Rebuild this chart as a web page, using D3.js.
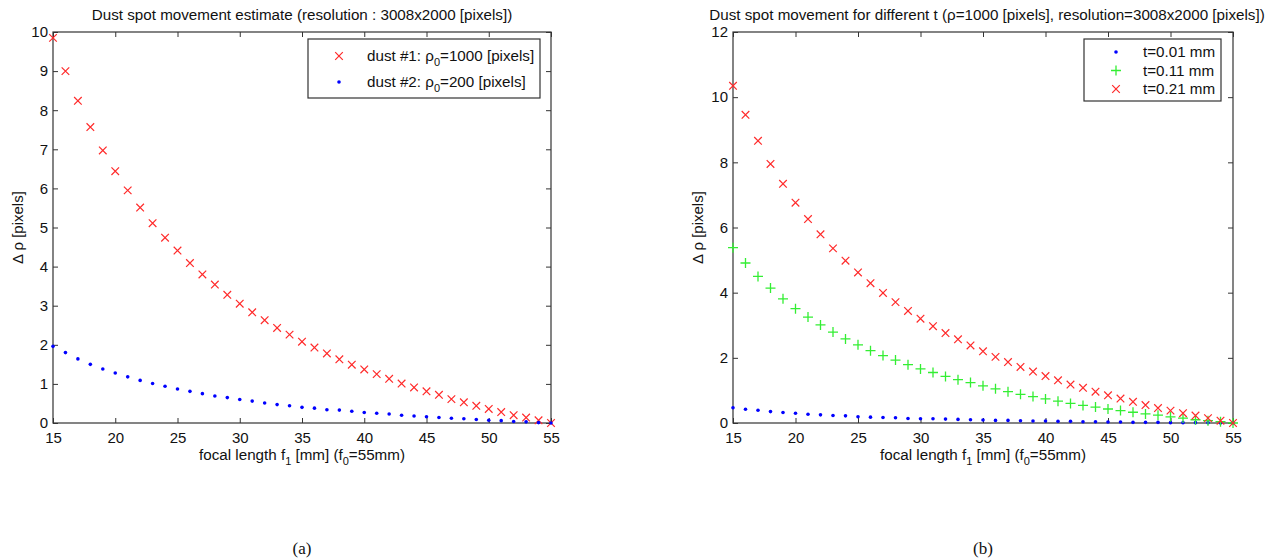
<!DOCTYPE html>
<html>
<head>
<meta charset="utf-8">
<script src="https://cdn.jsdelivr.net/npm/d3@7"></script>
<style>
  body { margin: 0; background: #fff; }
  text { font-family: "Liberation Sans", Arial, sans-serif; fill: #111; }
</style>
</head>
<body>
<div id="chart"></div>
<script>
// focal lengths f1 [mm]
const focal = d3.range(15, 56);

// panel (a): dust spot movement, rho0=1000 and rho0=200
const dust1 = [9.85, 9.0, 8.24, 7.57, 6.97, 6.44, 5.95, 5.51, 5.11, 4.74, 4.41, 4.09, 3.80, 3.54, 3.28, 3.05, 2.83, 2.63, 2.43, 2.26, 2.08, 1.93, 1.78, 1.63, 1.49, 1.37, 1.25, 1.13, 1.01, 0.91, 0.81, 0.72, 0.61, 0.53, 0.44, 0.36, 0.28, 0.20, 0.14, 0.07, 0.0];
const dust2 = [1.96, 1.80, 1.64, 1.50, 1.38, 1.28, 1.18, 1.09, 1.01, 0.94, 0.87, 0.81, 0.75, 0.69, 0.65, 0.60, 0.56, 0.51, 0.47, 0.44, 0.40, 0.38, 0.34, 0.33, 0.30, 0.27, 0.25, 0.23, 0.20, 0.18, 0.16, 0.14, 0.12, 0.11, 0.09, 0.07, 0.06, 0.04, 0.03, 0.01, 0.0];

// panel (b): different glass thickness t
const t001 = [0.47, 0.42, 0.39, 0.35, 0.32, 0.30, 0.27, 0.25, 0.23, 0.22, 0.19, 0.18, 0.17, 0.16, 0.14, 0.13, 0.13, 0.12, 0.11, 0.10, 0.09, 0.08, 0.08, 0.07, 0.06, 0.06, 0.05, 0.05, 0.04, 0.04, 0.03, 0.03, 0.02, 0.02, 0.02, 0.01, 0.01, 0.01, 0.01, 0.0, 0.0];
const t011 = [5.38, 4.91, 4.50, 4.14, 3.81, 3.51, 3.25, 3.01, 2.79, 2.58, 2.40, 2.22, 2.07, 1.93, 1.79, 1.66, 1.55, 1.43, 1.33, 1.24, 1.14, 1.05, 0.96, 0.88, 0.81, 0.74, 0.67, 0.60, 0.54, 0.49, 0.43, 0.38, 0.33, 0.28, 0.24, 0.19, 0.15, 0.10, 0.07, 0.04, 0.0];
const t021 = [10.35, 9.46, 8.66, 7.95, 7.34, 6.76, 6.26, 5.79, 5.36, 4.98, 4.62, 4.29, 3.99, 3.71, 3.44, 3.20, 2.97, 2.76, 2.57, 2.38, 2.20, 2.03, 1.87, 1.72, 1.58, 1.44, 1.31, 1.18, 1.08, 0.96, 0.85, 0.75, 0.65, 0.55, 0.46, 0.38, 0.30, 0.23, 0.15, 0.07, 0.0];

const xTicks = [15, 20, 25, 30, 35, 40, 45, 50, 55];
const yTicksA = [0, 1, 2, 3, 4, 5, 6, 7, 8, 9, 10];
const yTicksB = [0, 2, 4, 6, 8, 10, 12];

const svg = d3.select("#chart").append("svg")
    .attr("width", 1281)
    .attr("height", 560);

const RED = "#ff2a2a", BLUE = "#0000ff", GREEN = "#33ee33";
const FS = "15.2px", SUB = "11px";

function marker(g, type, color) {
    if (type === "x") {
        g.append("path").attr("d", "M-3.8,-3.8L3.8,3.8M-3.8,3.8L3.8,-3.8")
            .attr("stroke", color).attr("stroke-width", 1.2).attr("fill", "none");
    } else if (type === "+") {
        g.append("path").attr("d", "M-5,0L5,0M0,-5L0,5")
            .attr("stroke", color).attr("stroke-width", 1.3).attr("fill", "none");
    } else {
        g.append("circle").attr("r", 1.8).attr("fill", color);
    }
}

function panel(opt) {
    const g = svg.append("g");
    const x = d3.scaleLinear().domain([15, 55]).range([opt.left, opt.right]);
    const y = d3.scaleLinear().domain([0, opt.ymax]).range([opt.bottom, opt.top]);

    // box
    g.append("rect")
        .attr("x", opt.left).attr("y", opt.top)
        .attr("width", opt.right - opt.left).attr("height", opt.bottom - opt.top)
        .attr("fill", "none").attr("stroke", "#333").attr("stroke-width", 1.2);

    // axes with inward ticks (bottom/left labelled, top/right plain)
    const tk = 5;
    g.append("g").attr("transform", `translate(0,${opt.bottom})`)
        .call(d3.axisBottom(x).tickValues(xTicks).tickSize(-tk).tickPadding(9).tickFormat(d3.format("d")));
    g.append("g").attr("transform", `translate(0,${opt.top})`)
        .call(d3.axisTop(x).tickValues(xTicks).tickSize(-tk).tickFormat(""));
    g.append("g").attr("transform", `translate(${opt.left},0)`)
        .call(d3.axisLeft(y).tickValues(opt.yTicks).tickSize(-tk).tickPadding(5).tickFormat(d3.format("d")));
    g.append("g").attr("transform", `translate(${opt.right},0)`)
        .call(d3.axisRight(y).tickValues(opt.yTicks).tickSize(-tk).tickFormat(""));
    g.selectAll(".domain").remove();
    g.selectAll(".tick line").attr("stroke", "#333");
    g.selectAll(".tick text").style("font-size", "15px")
        .style("font-family", "Liberation Sans, Arial, sans-serif").attr("fill", "#111");

    // series
    opt.series.forEach(s => {
        const pts = g.append("g").selectAll("g").data(s.values).join("g")
            .attr("transform", (d, i) => `translate(${x(focal[i])},${y(d)})`);
        pts.each(function () { marker(d3.select(this), s.type, s.color); });
    });

    // title
    g.append("text").attr("x", opt.titleX).attr("y", 20)
        .attr("text-anchor", "middle").style("font-size", FS).text(opt.title);

    // x label
    const xl = g.append("text").attr("x", (opt.left + opt.right) / 2).attr("y", 460)
        .attr("text-anchor", "middle").style("font-size", FS);
    xl.append("tspan").text("focal length f");
    xl.append("tspan").attr("dy", 5).style("font-size", SUB).text("1");
    xl.append("tspan").attr("dy", -5).text(" [mm] (f");
    xl.append("tspan").attr("dy", 5).style("font-size", SUB).text("0");
    xl.append("tspan").attr("dy", -5).text("=55mm)");

    // y label
    g.append("text")
        .attr("transform", `translate(${opt.ylabelX},${(opt.top + opt.bottom) / 2}) rotate(-90)`)
        .attr("text-anchor", "middle").style("font-size", "15px").text("\u0394 \u03c1 [pixels]");

    // legend
    const lg = g.append("g");
    lg.append("rect").attr("x", opt.legend.x).attr("y", opt.legend.y)
        .attr("width", opt.legend.w).attr("height", opt.legend.h)
        .attr("fill", "#fff").attr("stroke", "#333").attr("stroke-width", 1.2);
    opt.series.forEach((s, i) => {
        const ry = opt.legend.y + opt.legend.row0 + i * opt.legend.step;
        const m = lg.append("g").attr("transform", `translate(${opt.legend.x + opt.legend.mx},${ry})`);
        marker(m, s.type, s.color);
        const t = lg.append("text").attr("x", opt.legend.x + opt.legend.tx).attr("y", ry + 5)
            .style("font-size", FS);
        s.label(t);
    });

    // caption
    svg.append("text").attr("x", (opt.left + opt.right) / 2).attr("y", 554)
        .attr("text-anchor", "middle")
        .style("font-family", "Liberation Serif, Times New Roman, serif").style("font-size", "17px")
        .text(opt.caption);
}

function rhoLabel(pre, val) {
    return t => {
        t.append("tspan").text(pre + "\u03c1");
        t.append("tspan").attr("dy", 5).style("font-size", SUB).text("0");
        t.append("tspan").attr("dy", -5).text("=" + val + " [pixels]");
    };
}

panel({
    left: 53, right: 551, top: 32, bottom: 423, ymax: 10, yTicks: yTicksA,
    ylabelX: 23, titleX: 302,
    title: "Dust spot movement estimate (resolution : 3008x2000 [pixels])",
    caption: "(a)",
    legend: { x: 308, y: 39, w: 232, h: 59, row0: 17, step: 26, mx: 31, tx: 59 },
    series: [
        { values: dust1, type: "x", color: RED, label: rhoLabel("dust #1: ", 1000) },
        { values: dust2, type: "dot", color: BLUE, label: rhoLabel("dust #2: ", 200) }
    ]
});

panel({
    left: 733, right: 1233, top: 32, bottom: 423, ymax: 12, yTicks: yTicksB,
    ylabelX: 703, titleX: 987,
    title: "Dust spot movement for different t (\u03c1=1000 [pixels], resolution=3008x2000 [pixels])",
    caption: "(b)",
    legend: { x: 1084, y: 39, w: 137, h: 62, row0: 13, step: 18.5, mx: 32, tx: 59 },
    series: [
        { values: t001, type: "dot", color: BLUE, label: t => t.text("t=0.01 mm") },
        { values: t011, type: "+", color: GREEN, label: t => t.text("t=0.11 mm") },
        { values: t021, type: "x", color: RED, label: t => t.text("t=0.21 mm") }
    ]
});
</script>
</body>
</html>
